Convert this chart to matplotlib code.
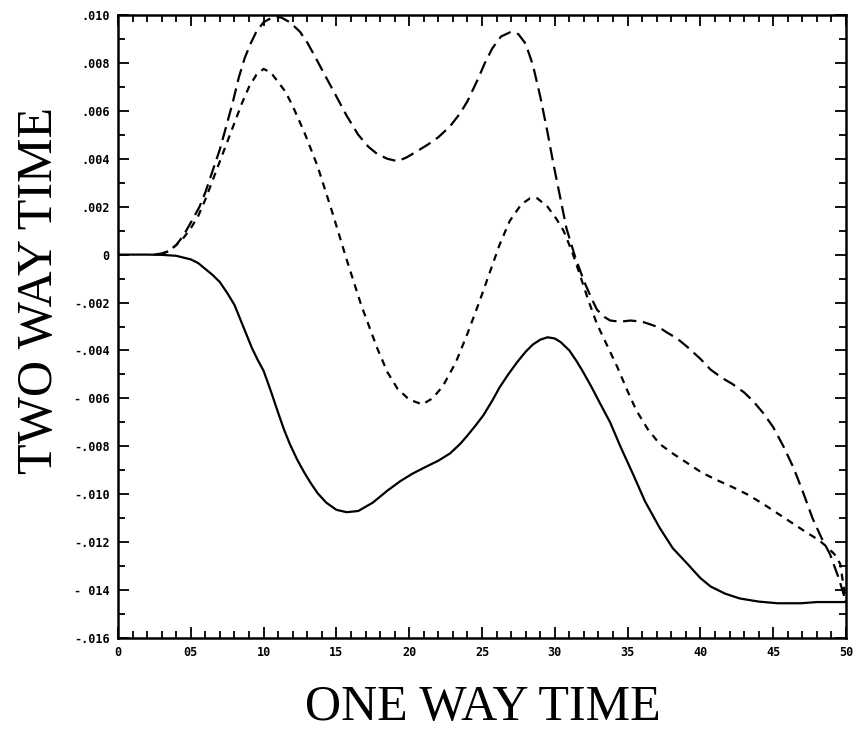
import numpy as np
import matplotlib
matplotlib.use('Agg')
import matplotlib.pyplot as plt
from matplotlib.ticker import MultipleLocator

# values (y in units of 1e-3)
x_solid = [0, 2, 3, 4, 5, 5.5, 6, 6.5, 7, 7.5, 8, 8.4, 8.8, 9.2, 9.6, 10, 10.5, 11,
           11.4, 11.8, 12.3, 12.8, 13.2, 13.7, 14.3, 15, 15.7, 16.5, 17.5, 18.5, 19.4,
           20.2, 21, 22, 22.8, 23.5, 24, 24.6, 25.1, 25.7, 26.2, 26.8, 27.4, 28, 28.5,
           29, 29.5, 30, 30.4, 31, 31.5, 31.9, 32.5, 33.1, 33.8, 34.5, 35.4, 36.2, 37.2,
           38.1, 39.1, 40, 40.7, 41.7, 42.7, 44, 45.3, 46.9, 48, 50]
y_solid = [0, 0, -0.01, -0.05, -0.2, -0.35, -0.6, -0.85, -1.15, -1.6, -2.1, -2.7, -3.3,
           -3.9, -4.4, -4.85, -5.7, -6.6, -7.3, -7.9, -8.55, -9.1, -9.5, -9.95, -10.35,
           -10.65, -10.75, -10.7, -10.35, -9.85, -9.45, -9.15, -8.9, -8.6, -8.3, -7.9,
           -7.55, -7.1, -6.7, -6.1, -5.55, -5.0, -4.5, -4.05, -3.75, -3.55, -3.45, -3.5,
           -3.65, -4.0, -4.45, -4.85, -5.5, -6.2, -7.0, -8.0, -9.2, -10.3, -11.4, -12.25,
           -12.9, -13.5, -13.85, -14.15, -14.35, -14.48, -14.55, -14.55, -14.5, -14.5]

x_long = [2.5, 3, 3.5, 4, 4.5, 5.15, 5.6, 6, 6.5, 7, 7.5, 7.9, 8.3, 8.7, 9.1, 9.5, 10,
          10.6, 11.2, 11.8, 12.5, 13, 13.5, 14.2, 15, 15.7, 16.5, 17.2, 17.8, 18.5, 19.2,
          19.8, 20.5, 21.3, 22, 22.8, 23.5, 24, 24.7, 25.2, 25.7, 26.3, 27, 27.5, 28,
          28.5, 29, 29.5, 29.9, 30.4, 30.8, 31.4, 32, 32.5, 32.9, 33.4, 33.8, 34.5, 35.2,
          36, 36.5, 37.2, 37.7, 38.4, 39.1, 40, 40.7, 41.5, 42.2, 43, 43.6, 44.3, 45,
          45.7, 46.4, 47.1, 47.7, 48.3, 48.9, 49.5, 50]
y_long = [0, 0.05, 0.15, 0.4, 0.8, 1.5, 2.0, 2.6, 3.5, 4.4, 5.5, 6.4, 7.4, 8.2, 8.8,
          9.3, 9.7, 9.9, 9.9, 9.7, 9.3, 8.85, 8.3, 7.5, 6.6, 5.8, 5.0, 4.5, 4.2, 4.0,
          3.9, 4.05, 4.3, 4.6, 4.9, 5.35, 5.9, 6.4, 7.3, 8.0, 8.6, 9.1, 9.3, 9.2, 8.8,
          7.9, 6.6, 5.1, 3.8, 2.3, 1.1, -0.1, -1.1, -1.8, -2.3, -2.6, -2.75, -2.8,
          -2.75, -2.8, -2.9, -3.05, -3.25, -3.5, -3.85, -4.35, -4.8, -5.15, -5.4, -5.75,
          -6.1, -6.6, -7.2, -8.0, -8.9, -10.0, -11.0, -11.8, -12.5, -13.5, -14.5]

x_short = [3, 3.5, 4, 4.5, 5, 5.5, 6, 6.5, 7, 7.5, 8, 8.5, 9, 9.5, 10, 10.5, 11, 11.5,
           12, 12.8, 13.7, 14.7, 15.7, 16.7, 17.8, 18.5, 19.2, 20, 20.9, 21.6, 22.3,
           23.2, 24, 24.8, 25.5, 26.2, 26.9, 27.7, 28.3, 28.8, 29.5, 30.1, 30.6, 31.2,
           31.7, 32.3, 32.9, 33.6, 34.3, 35, 35.6, 36.4, 37.2, 38.1, 39.1, 40.1, 41.1,
           42.2, 43.2, 44.3, 45.3, 46.3, 47.3, 48.1, 48.7, 49.2, 49.6, 50]
y_short = [0.02, 0.15, 0.4, 0.7, 1.1, 1.6, 2.3, 3.1, 3.9, 4.7, 5.5, 6.3, 7.0, 7.5, 7.75,
           7.6, 7.2, 6.8, 6.2, 5.1, 3.7, 1.8, -0.2, -2.1, -3.9, -4.9, -5.6, -6.05, -6.25,
           -6.0, -5.5, -4.5, -3.3, -2.0, -0.8, 0.4, 1.4, 2.1, 2.35, 2.35, 2.0, 1.5, 1.0,
           0.1, -0.8, -1.9, -2.9, -3.8, -4.7, -5.7, -6.5, -7.3, -7.9, -8.3, -8.7, -9.1,
           -9.4, -9.7, -10.0, -10.4, -10.8, -11.2, -11.6, -11.9, -12.2, -12.5, -12.9,
           -14.5]

x_ticks = [0, 5, 10, 15, 20, 25, 30, 35, 40, 45, 50]
x_labels = ['0', '05', '10', '15', '20', '25', '30', '35', '40', '45', '50']
y_ticks = [10, 8, 6, 4, 2, 0, -2, -4, -6, -8, -10, -12, -14, -16]
y_labels = ['.010', '.008', '.006', '.004', '.002', '0', '-.002', '-.004', '- 006',
            '-.008', '-.010', '-.012', '- 014', '-.016']

fig = plt.figure(figsize=(8.63, 7.33), dpi=100)
ax = fig.add_axes([118 / 863, 95 / 733, 728 / 863, 623 / 733])

ax.plot(x_solid, y_solid, color='black', lw=1.6)
ax.plot(x_long, y_long, color='black', lw=1.6, linestyle=(0, (6, 3)))
ax.plot(x_short, y_short, color='black', lw=1.6, linestyle=(0, (3.2, 2.8)))

ax.set_xlim(0, 50)
ax.set_ylim(-16, 10)
ax.set_xticks(x_ticks)
ax.set_xticklabels(x_labels)
ax.set_yticks(y_ticks)
ax.set_yticklabels(y_labels)
ax.xaxis.set_minor_locator(MultipleLocator(1))
ax.yaxis.set_minor_locator(MultipleLocator(1))
ax.tick_params(which='both', direction='in', top=True, right=True, width=1.3)
ax.tick_params(which='major', length=8, pad=6)
ax.tick_params(which='minor', length=5)
for lab in ax.get_xticklabels() + ax.get_yticklabels():
    lab.set_family('DejaVu Sans Mono')
    lab.set_fontweight('bold')
    lab.set_fontsize(8.5)
for s in ax.spines.values():
    s.set_linewidth(1.8)

fig.text(483 / 863, 1 - 708 / 733, 'ONE WAY TIME', family='Liberation Serif',
         fontsize=36, ha='center', va='center')
fig.text(40 / 863, 1 - 291 / 733, 'TWO WAY TIME', family='Liberation Serif',
         fontsize=36, ha='center', va='center', rotation=90)

fig.savefig('out.png', dpi=100)
